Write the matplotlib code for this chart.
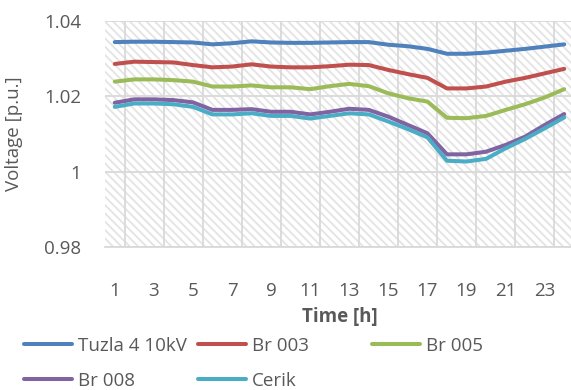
import numpy as np
import matplotlib.pyplot as plt
from matplotlib.patches import Rectangle
from matplotlib.ticker import FixedLocator

plt.rcParams['font.family'] = ['Open Sans', 'DejaVu Sans']
plt.rcParams['hatch.linewidth'] = 1.3

hours = np.arange(1, 25)

tuzla = [1.0344, 1.0345, 1.0345, 1.0344, 1.0343, 1.0338, 1.0341, 1.0346,
         1.0343, 1.0342, 1.0342, 1.0343, 1.0344, 1.0344, 1.0337, 1.0333,
         1.0326, 1.0313, 1.0313, 1.0316, 1.0321, 1.0326, 1.0332, 1.0338]
br003 = [1.0286, 1.0292, 1.0291, 1.0290, 1.0283, 1.0277, 1.0279, 1.0285,
         1.0279, 1.0277, 1.0277, 1.0280, 1.0284, 1.0283, 1.0270, 1.0259,
         1.0249, 1.0221, 1.0221, 1.0226, 1.0239, 1.0249, 1.0261, 1.0273]
br005 = [1.0239, 1.0245, 1.0245, 1.0243, 1.0239, 1.0226, 1.0226, 1.0229,
         1.0224, 1.0224, 1.0219, 1.0227, 1.0233, 1.0227, 1.0208, 1.0195,
         1.0186, 1.0143, 1.0142, 1.0148, 1.0164, 1.0179, 1.0197, 1.0219]
br008 = [1.0183, 1.0192, 1.0192, 1.0190, 1.0184, 1.0164, 1.0164, 1.0166,
         1.0159, 1.0159, 1.0152, 1.0159, 1.0167, 1.0164, 1.0146, 1.0124,
         1.0102, 1.0046, 1.0046, 1.0053, 1.0071, 1.0093, 1.0124, 1.0153]
cerik = [1.0172, 1.0181, 1.0181, 1.0179, 1.0172, 1.0152, 1.0152, 1.0155,
         1.0148, 1.0148, 1.0141, 1.0148, 1.0155, 1.0152, 1.0133, 1.0113,
         1.0091, 1.0029, 1.0027, 1.0034, 1.0062, 1.0087, 1.0115, 1.0144]

names = ['Tuzla 4 10kV', 'Br 003', 'Br 005', 'Br 008', 'Cerik']
series = [tuzla, br003, br005, br008, cerik]
colors = ['#4F81BD', '#C0504D', '#9BBB59', '#8064A2', '#4BACC6']

yticks = [0.98, 1.0, 1.02, 1.04]
ylabels = ['0.98', '1', '1.02', '1.04']
xticks = list(range(1, 24, 2))

txt = '#595959'
grid = '#d9d9d9'

fig = plt.figure(figsize=(5.71, 3.9), dpi=100)
ax = fig.add_axes([105 / 571, (390 - 247) / 390, 469 / 571, 226 / 390])

# patterned plot area
ax.add_patch(Rectangle((0, 0), 1, 1, transform=ax.transAxes, facecolor='white',
                       edgecolor='#e4e4e4', lw=0, hatch='\\\\\\\\', zorder=0.1))

lines = []
for name, vals, c in zip(names, series, colors):
    ln, = ax.plot(hours, vals, color=c, lw=2.9, label=name,
                  solid_capstyle='round', solid_joinstyle='round', zorder=3)
    lines.append(ln)

ax.set_xlim(0.5, 24.5)
ax.set_ylim(0.98, 1.04)
ax.set_yticks(yticks)
ax.set_yticklabels(ylabels)
ax.set_xticks(xticks)
ax.xaxis.set_minor_locator(FixedLocator(np.arange(1.5, 24, 2)))
ax.tick_params(axis='both', which='both', length=0, labelsize=13.5, colors=txt)
ax.tick_params(axis='y', pad=17)
ax.tick_params(axis='x', pad=25)
ax.set_axisbelow(True)
ax.grid(True, axis='y', color=grid, lw=1.3)
ax.grid(True, axis='x', which='minor', color=grid, lw=1.3)
for s in ['top', 'right', 'left']:
    ax.spines[s].set_visible(False)
ax.spines['bottom'].set_color(grid)
ax.spines['bottom'].set_linewidth(1.3)

ax.set_ylabel('Voltage [p.u.]', fontsize=13.5, color=txt)
ax.yaxis.set_label_coords(-0.175, 0.5)
ax.set_xlabel('Time [h]', fontsize=13.5, color=txt, fontweight='bold', labelpad=5)

# legend laid out in three columns
cols = [[0, 3], [1, 4], [2]]
col_x = [24, 198, 372]
for idx, x in zip(cols, col_x):
    fig.legend([lines[i] for i in idx], [names[i] for i in idx],
               loc='upper left', bbox_to_anchor=(x / 571, (390 - 337) / 390),
               frameon=False, fontsize=13.5, labelcolor=txt, borderpad=0,
               borderaxespad=0, handlelength=2.56, handletextpad=0.3,
               labelspacing=0.88)

fig.savefig('out.png', dpi=100)
